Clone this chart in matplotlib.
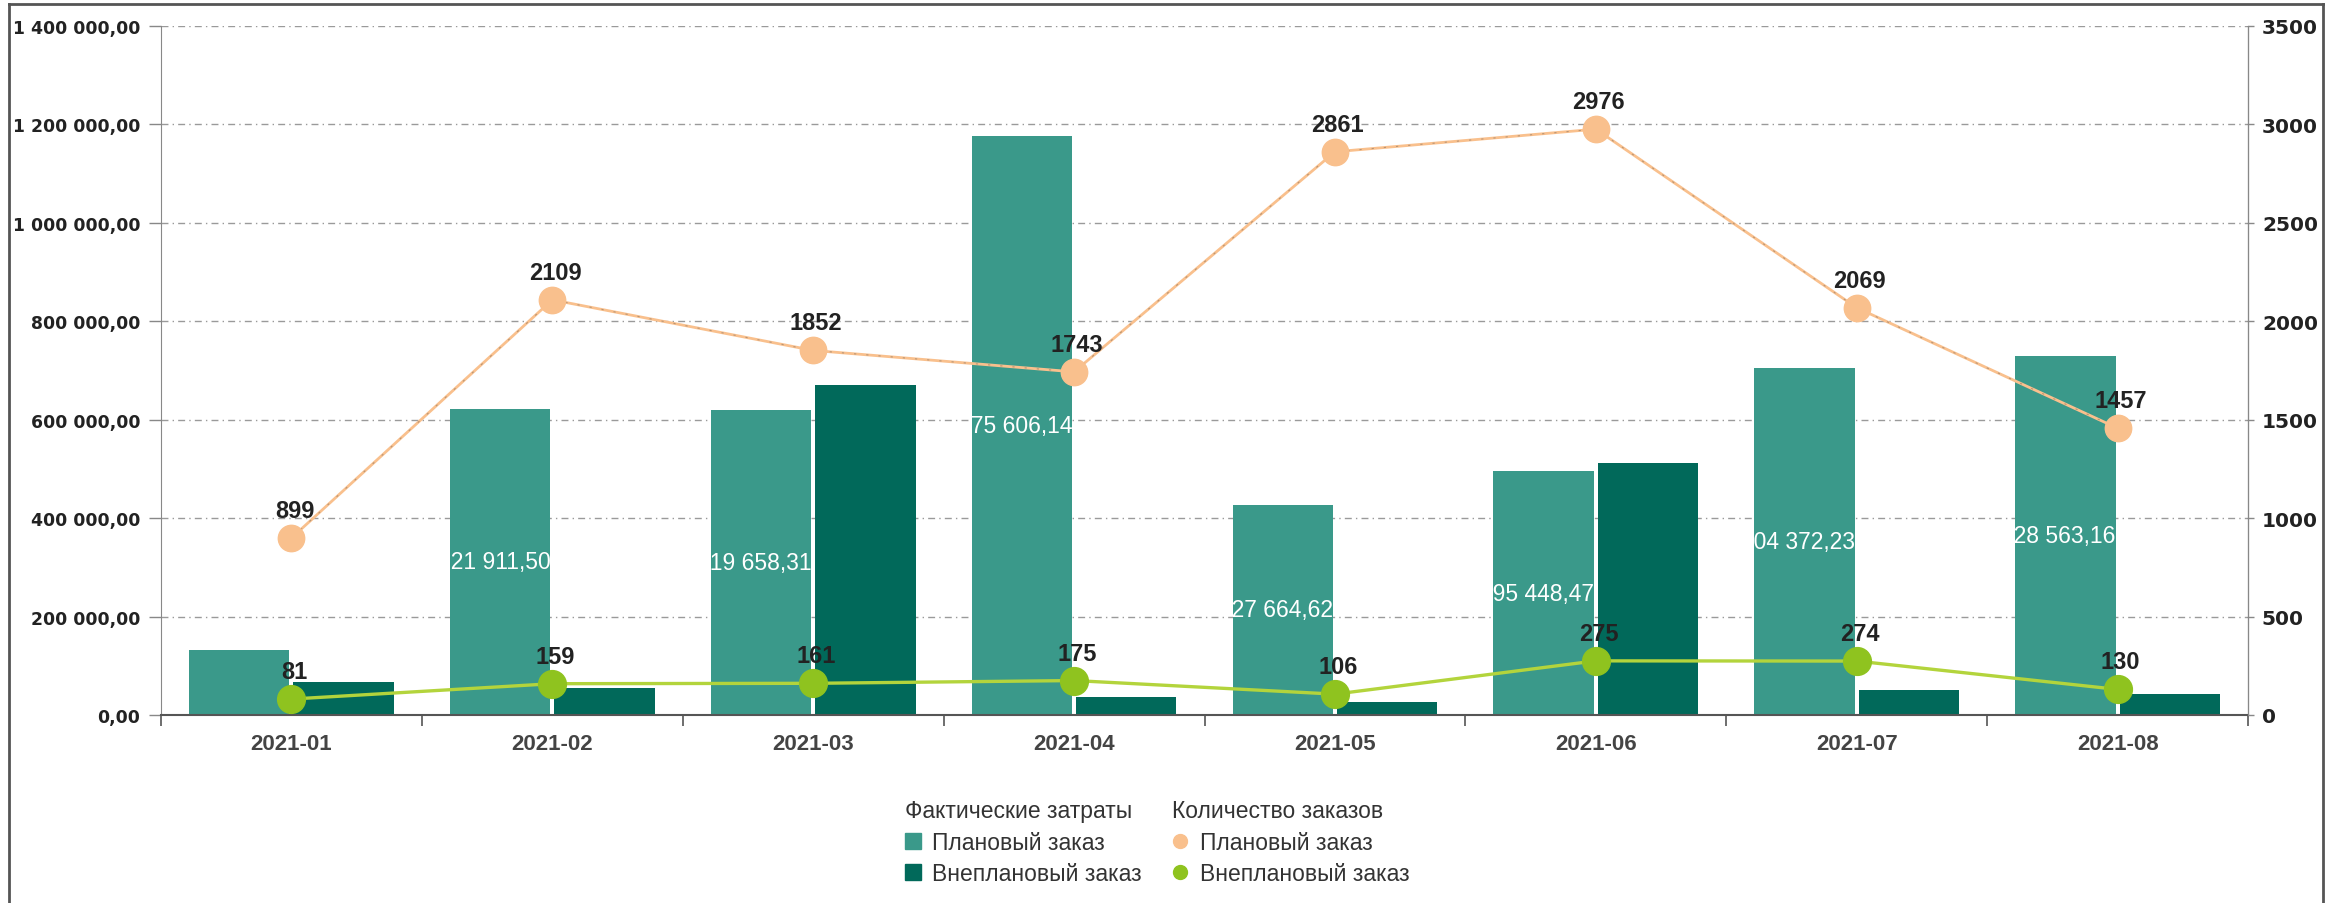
import numpy as np
import matplotlib
matplotlib.use("Agg")
import matplotlib.pyplot as plt
from matplotlib.lines import Line2D
from matplotlib.patches import Patch
from matplotlib.transforms import Bbox, TransformedBbox
from matplotlib.ticker import FuncFormatter, MultipleLocator, FixedLocator

plt.rcParams['font.family'] = ['Liberation Sans', 'DejaVu Sans']

# --- Data ---
months = ["2021-01", "2021-02", "2021-03", "2021-04",
          "2021-05", "2021-06", "2021-07", "2021-08"]
plan_cost = [132000.00, 621911.50, 619658.31, 1175606.14,
             427664.62, 495448.47, 704372.23, 728563.16]
unplan_cost = [68000, 54000, 670000, 36000, 26000, 513000, 51000, 43000]
plan_count = [899, 2109, 1852, 1743, 2861, 2976, 2069, 1457]
unplan_count = [81, 159, 161, 175, 106, 275, 274, 130]

# --- Style ---
C_PLAN_BAR = '#3a998a'
C_UNPLAN_BAR = '#01695a'
C_PLAN_PT = '#f9c08d'
C_UNPLAN_PT = '#8fc31f'
C_UNPLAN_LINE = '#b3d43c'
W, H, DPI = 2330, 904, 100
TICK_FONT = ['DejaVu Sans']


def money(v, pos=None):
    return f"{v:,.2f}".replace(",", " ").replace(".", ",")


fig = plt.figure(figsize=(W / DPI, H / DPI), dpi=DPI)
ax = fig.add_axes([161 / W, 1 - 716 / H, (2248 - 161) / W, (716 - 27) / H])
ax2 = ax.twinx()

x = np.arange(len(months))
bw = 0.385
bars_plan = ax.bar(x - 0.2, plan_cost, bw, color=C_PLAN_BAR, zorder=2)
bars_unplan = ax.bar(x + 0.2, unplan_cost, bw, color=C_UNPLAN_BAR, zorder=2)

ax.set_xlim(-0.5, len(months) - 0.5)
ax.set_ylim(0, 1400000)
ax.yaxis.set_major_locator(MultipleLocator(200000))
ax.yaxis.set_major_formatter(FuncFormatter(money))
ax.set_axisbelow(True)
ax.grid(axis='y', color='#9a9a9a', lw=1, linestyle=(0, (5, 3, 1, 3)))

ax.set_xticks(x)
ax.set_xticklabels(months)
ax.xaxis.set_minor_locator(FixedLocator(np.arange(-0.5, len(months), 1.0)))
ax.tick_params(axis='x', which='major', length=0, pad=13, labelsize=16,
               labelcolor='#444')
ax.tick_params(axis='x', which='minor', length=8, width=1.2, color='#555')
for lbl in ax.get_xticklabels():
    lbl.set_fontweight('bold')
ax.tick_params(axis='y', length=9, width=1, color='#888', pad=6,
               labelsize=12.4, labelcolor='#222')
for lbl in ax.get_yticklabels():
    lbl.set_fontweight('bold')
    lbl.set_family(TICK_FONT)

ax.spines['top'].set_visible(False)
ax2.spines['top'].set_visible(False)
ax.spines['left'].set_color('#888')
ax.spines['bottom'].set_color('#555')
ax.spines['bottom'].set_linewidth(1.5)
ax2.spines['right'].set_color('#888')
ax2.spines['left'].set_visible(False)
ax2.spines['bottom'].set_visible(False)

# labels inside planned-cost bars: white text, only the part over the bar shows
for b, v in zip(bars_plan, plan_cost):
    if v < 200000:
        continue
    right = b.get_x() + b.get_width()
    t = ax.text(right, v / 2, money(v), ha='right', va='center', color='white',
                fontsize=16.5, clip_on=True, zorder=3)
    t.set_clip_path(None)
    t.set_clip_box(TransformedBbox(
        Bbox.from_extents(b.get_x(), 0, right, v), ax.transData))

# order counts on the right axis
ax2.set_ylim(0, 3500)
ax2.yaxis.set_major_locator(MultipleLocator(500))
ax2.tick_params(axis='y', length=4, width=1, color='#888', pad=6,
                labelsize=14.5, labelcolor='#222')
for lbl in ax2.get_yticklabels():
    lbl.set_fontweight('bold')
    lbl.set_family(TICK_FONT)

ax2.plot(x, plan_count, color=C_PLAN_PT, lw=2.0, zorder=3)
ax2.plot(x, plan_count, color='#7a6a5a', lw=0.8, alpha=0.5,
         linestyle=(0, (2, 9)), zorder=3)
ax2.plot(x, plan_count, linestyle='none', marker='o', ms=19,
         color=C_PLAN_PT, zorder=4)
ax2.plot(x, unplan_count, color=C_UNPLAN_LINE, lw=2.4, zorder=3)
ax2.plot(x, unplan_count, linestyle='none', marker='o', ms=20,
         color=C_UNPLAN_PT, zorder=4)

for xi, v in zip(x, plan_count):
    ax2.annotate(str(v), (xi, v), xytext=(3, 16), textcoords='offset pixels',
                 ha='center', va='bottom', fontsize=17, fontweight='bold',
                 color='#222', zorder=5)
for xi, v in zip(x, unplan_count):
    ax2.annotate(str(v), (xi, v), xytext=(3, 16), textcoords='offset pixels',
                 ha='center', va='bottom', fontsize=17, fontweight='bold',
                 color='#222', zorder=5)

# legend in two titled columns
h_bars = [Patch(color=C_PLAN_BAR), Patch(color=C_UNPLAN_BAR)]
h_pts = [Line2D([], [], ls='none', marker='o', ms=10, color=C_PLAN_PT),
         Line2D([], [], ls='none', marker='o', ms=10, color=C_UNPLAN_PT)]
names = ["Плановый заказ", "Внеплановый заказ"]
common = dict(loc='upper left', frameon=False, fontsize=16.5, title_fontsize=16.5,
              handlelength=0.7, handleheight=0.7, handletextpad=0.5,
              labelspacing=0.38, alignment='left', borderpad=0, borderaxespad=0,
              labelcolor='#333')
leg1 = fig.legend(h_bars, names, title="Фактические затраты",
                  bbox_to_anchor=(905 / W, 1 - 800 / H), **common)
leg2 = fig.legend(h_pts, names, title="Количество заказов",
                  bbox_to_anchor=(1172 / W, 1 - 800 / H), **common)
for lg in (leg1, leg2):
    lg.get_title().set_color('#333')

# outer frame (left, top, right)
frame = dict(color='#555', lw=2, transform=fig.transFigure)
fig.add_artist(Line2D([8.5 / W, 8.5 / W], [0, 1 - 5 / H], **frame))
fig.add_artist(Line2D([8.5 / W, 2322.5 / W], [1 - 5 / H, 1 - 5 / H], **frame))
fig.add_artist(Line2D([2322.5 / W, 2322.5 / W], [1 - 5 / H, 0], **frame))

fig.savefig("out.png", dpi=DPI, facecolor='white')
